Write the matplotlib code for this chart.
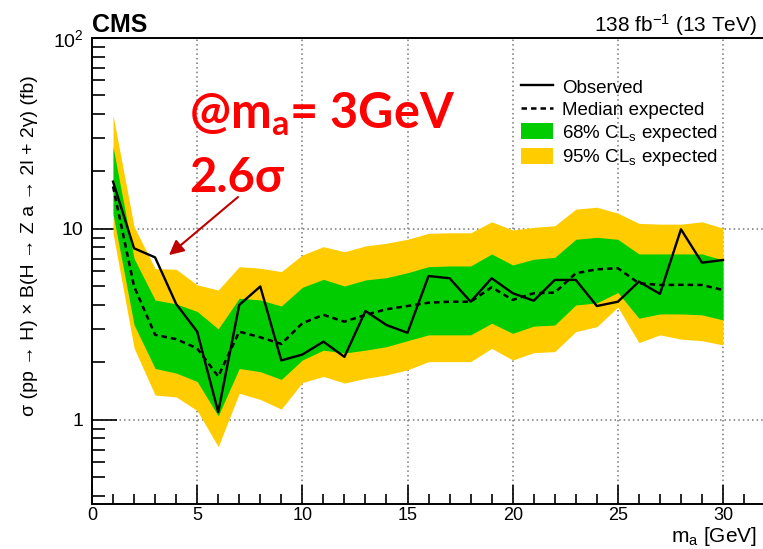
import matplotlib
matplotlib.use("Agg")
import matplotlib.pyplot as plt
from matplotlib.lines import Line2D
from matplotlib.patches import Patch
from matplotlib.ticker import FixedLocator, FuncFormatter, NullFormatter

plt.rcParams["font.family"] = ["Liberation Sans", "DejaVu Sans"]
plt.rcParams["mathtext.fontset"] = "custom"
plt.rcParams["mathtext.rm"] = "Liberation Sans"
plt.rcParams["mathtext.it"] = "Liberation Sans:italic"
plt.rcParams["mathtext.bf"] = "Liberation Sans:bold"

# --- data (m_a in GeV, limits in fb) ---
mass = list(range(1, 31))
observed = [17.7, 7.92, 7.1, 4.05, 2.9, 1.1, 4.0, 5.0, 2.05, 2.2,
            2.57, 2.14, 3.72, 3.14, 2.86, 5.67, 5.52, 4.16, 5.52, 4.61,
            4.21, 5.41, 5.41, 3.95, 4.16, 5.30, 4.57, 9.96, 6.66, 6.88]
expected = [16.7, 5.0, 2.79, 2.65, 2.37, 1.69, 2.9, 2.71, 2.5, 3.21,
            3.55, 3.27, 3.55, 3.80, 3.95, 4.11, 4.16, 4.16, 4.95, 4.25,
            4.61, 4.64, 5.86, 6.15, 6.23, 5.2, 5.09, 5.1, 5.09, 4.79]
band68_hi = [27.0, 7.0, 4.25, 4.05, 3.7, 3.0, 4.34, 4.25, 3.95, 4.95,
             5.45, 5.03, 5.41, 5.56, 5.90, 6.35, 6.4, 6.4, 7.40, 6.48,
             6.94, 7.1, 8.83, 9.04, 8.83, 7.4, 7.4, 7.4, 7.4, 6.88]
band68_lo = [12.0, 3.15, 1.86, 1.76, 1.59, 1.05, 1.86, 1.79, 1.63, 2.06,
             2.32, 2.24, 2.32, 2.42, 2.60, 2.79, 2.79, 2.79, 3.21, 2.84,
             3.10, 3.14, 4.0, 4.1, 4.65, 3.41, 3.59, 3.59, 3.55, 3.34]
band95_hi = [39.5, 10.3, 6.2, 6.15, 5.1, 4.79, 6.35, 6.23, 5.98, 7.31,
             8.08, 7.6, 8.15, 8.42, 8.83, 9.49, 9.55, 9.55, 10.9, 9.88,
             10.2, 10.4, 12.7, 13.0, 12.1, 10.7, 10.6, 10.6, 10.9, 10.1]
band95_lo = [9.5, 2.38, 1.35, 1.32, 1.12, 0.725, 1.38, 1.28, 1.14, 1.57,
             1.69, 1.56, 1.65, 1.72, 1.83, 2.02, 2.02, 2.02, 2.37, 2.06,
             2.25, 2.28, 2.90, 3.08, 3.9, 2.54, 2.79, 2.65, 2.60, 2.47]

GREEN = "#00cc00"
YELLOW = "#ffcc00"

W, H = 763, 549
fig = plt.figure(figsize=(W / 100, H / 100), dpi=100)
ax = fig.add_axes([92 / W, 1 - 504 / H, (763 - 92) / W, (504 - 38) / H])

ax.fill_between(mass, band95_lo, band95_hi, color=YELLOW, lw=0, zorder=2)
ax.fill_between(mass, band68_lo, band68_hi, color=GREEN, lw=0, zorder=3)
ax.plot(mass, expected, color="black", lw=1.8, ls=(0, (2.2, 1.6)), zorder=4)
ax.plot(mass, observed, color="black", lw=1.7, zorder=5)

ax.set_yscale("log")
ax.set_xlim(0, 31.9)
ax.set_ylim(0.363, 100)

# ROOT-like ticks
ax.xaxis.set_major_locator(FixedLocator([0, 5, 10, 15, 20, 25, 30]))
ax.xaxis.set_minor_locator(FixedLocator(range(0, 32)))
ax.yaxis.set_major_locator(FixedLocator([1, 10, 100]))
minors = [k * d for d in (0.1, 1, 10) for k in range(2, 10)]
ax.yaxis.set_minor_locator(FixedLocator(minors))
ax.yaxis.set_minor_formatter(NullFormatter())
ax.yaxis.set_major_formatter(FuncFormatter(
    lambda v, p: {1: "1", 10: "10", 100: r"$\mathregular{10^2}$"}.get(int(round(v)), "")))
ax.tick_params(which="both", direction="in", top=False, right=False,
               labelsize=14, colors="black", width=1.2)
ax.tick_params(axis="x", which="major", length=14, pad=2, labelsize=13)
ax.tick_params(axis="x", which="minor", length=7)
ax.tick_params(axis="y", which="major", length=18, pad=6)
ax.tick_params(axis="y", which="minor", length=9)
for s in ["left", "bottom", "top"]:
    ax.spines[s].set_linewidth(1.4)
ax.spines["right"].set_visible(False)

for xv in [5, 10, 15, 20, 25, 30]:
    ax.axvline(xv, color="#777777", lw=1.1, ls=(0, (1, 2)), zorder=1)
for yv in [1, 10, 100]:
    ax.axhline(yv, color="#777777", lw=1.1, ls=(0, (1, 2)), zorder=1)

# labels
fig.text(30 / W, 1 - 246 / H, "σ (pp → H) × B(H → Z a → 2l + 2γ) (fb)",
         rotation=90, ha="center", va="center", fontsize=14)
fig.text(757 / W, 1 - 542 / H, r"m$_{\mathregular{a}}$ [GeV]",
         ha="right", va="baseline", fontsize=15)
fig.text(92 / W, 1 - 32 / H, "CMS", ha="left", va="baseline",
         fontsize=18, fontweight="bold")
fig.text(757 / W, 1 - 32 / H, r"138 fb$^{\mathregular{-1}}$ (13 TeV)",
         ha="right", va="baseline", fontsize=15)

handles = [Line2D([], [], color="black", lw=1.7),
           Line2D([], [], color="black", lw=1.8, ls=(0, (2.2, 1.6))),
           Patch(facecolor=GREEN, edgecolor="none"),
           Patch(facecolor=YELLOW, edgecolor="none")]
labels = ["Observed", "Median expected",
          r"68% CL$_{\mathregular{s}}$ expected",
          r"95% CL$_{\mathregular{s}}$ expected"]
ax.legend(handles, labels, loc="upper left",
          bbox_to_anchor=(521 / W, 1 - 78 / H), bbox_transform=fig.transFigure,
          frameon=False, fontsize=13.5, handlelength=1.7, handleheight=0.95,
          labelspacing=0.2, borderpad=0, borderaxespad=0, handletextpad=0.5)

# annotation
fig.text(189 / W, 1 - 128 / H, r"@m$_{\mathregular{a}}$= 3GeV", color="#ff0000",
         ha="left", va="baseline", fontsize=35, fontweight="bold", family="Lato")
fig.text(189 / W, 1 - 192 / H, "2.6σ", color="#ff0000",
         ha="left", va="baseline", fontsize=34, fontweight="bold",
         family=["Lato", "DejaVu Sans"])
ax.annotate("", xy=(3.66, 7.3), xytext=(6.94, 14.7),
            arrowprops=dict(arrowstyle="-|>", color="#c00000", lw=1.5,
                            mutation_scale=22, shrinkA=0, shrinkB=0), zorder=6)

fig.savefig("out.png", dpi=100)
